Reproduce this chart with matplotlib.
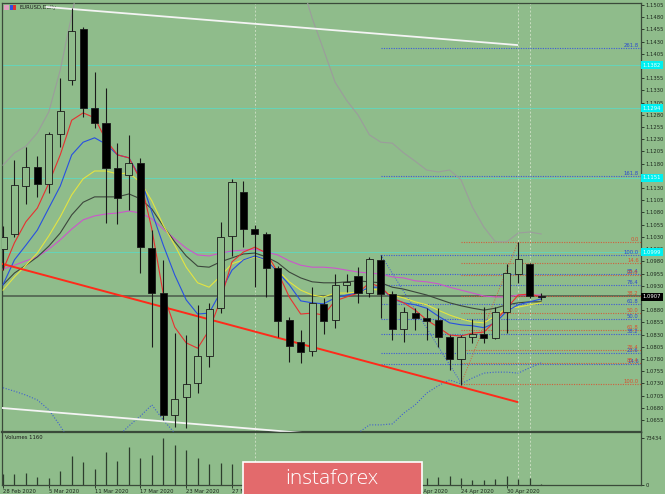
import numpy as np
import matplotlib
matplotlib.use("Agg")
import matplotlib.pyplot as plt
from matplotlib.patches import Rectangle
import matplotlib.transforms as mtransforms

# EURUSD daily bars, 28 Feb 2020 .. 5 May 2020
opens = [1.1005, 1.1036, 1.1134, 1.1173, 1.1138, 1.1241, 1.1351, 1.1456, 1.1294, 1.1263,
         1.1171, 1.1157, 1.1181, 1.1007, 1.0915, 1.0665, 1.0702, 1.0731, 1.0786, 1.0884,
         1.1032, 1.1122, 1.1046, 1.1036, 1.0966, 1.0860, 1.0815, 1.0796, 1.0893, 1.0860,
         1.0931, 1.0950, 1.0915, 1.0983, 1.0913, 1.0841, 1.0874, 1.0864, 1.0860, 1.0825,
         1.0780, 1.0825, 1.0831, 1.0823, 1.0876, 1.0954, 1.0975, 1.0909]
highs = [1.1053, 1.1188, 1.1214, 1.1195, 1.1245, 1.1355, 1.1499, 1.1460, 1.1368, 1.1335,
         1.1222, 1.1239, 1.1192, 1.1044, 1.0983, 1.0833, 1.0829, 1.0890, 1.0895, 1.1061,
         1.1148, 1.1145, 1.1054, 1.1040, 1.0970, 1.0866, 1.0839, 1.0927, 1.0905, 1.0954,
         1.0954, 1.0968, 1.0989, 1.0993, 1.0920, 1.0886, 1.0884, 1.0884, 1.0884, 1.0830,
         1.0829, 1.0862, 1.0886, 1.0886, 1.0975, 1.1020, 1.0977, 1.0915]
lows = [1.0962, 1.1030, 1.1097, 1.1112, 1.1120, 1.1214, 1.1341, 1.1276, 1.1253, 1.1058,
        1.1056, 1.1085, 1.0956, 1.0804, 1.0655, 1.0641, 1.0639, 1.0710, 1.0764, 1.0874,
        1.0990, 1.1009, 1.0927, 1.0907, 1.0825, 1.0774, 1.0772, 1.0786, 1.0831, 1.0843,
        1.0917, 1.0895, 1.0907, 1.0864, 1.0819, 1.0815, 1.0839, 1.0819, 1.0805, 1.0757,
        1.0727, 1.0813, 1.0813, 1.0821, 1.0833, 1.0936, 1.0905, 1.0900]
closes = [1.1030, 1.1136, 1.1173, 1.1138, 1.1241, 1.1288, 1.1452, 1.1294, 1.1263, 1.1171,
          1.1110, 1.1181, 1.1009, 1.0915, 1.0665, 1.0698, 1.0729, 1.0786, 1.0882, 1.1030,
          1.1142, 1.1046, 1.1036, 1.0966, 1.0858, 1.0807, 1.0794, 1.0895, 1.0858, 1.0931,
          1.0938, 1.0915, 1.0985, 1.0913, 1.0841, 1.0876, 1.0864, 1.0858, 1.0825, 1.0780,
          1.0825, 1.0831, 1.0823, 1.0876, 1.0956, 1.0985, 1.0909, 1.0907]
volumes = [17000, 17186, 18749, 12500, 10937, 21874, 45310, 35935, 24998, 51560,
           37498, 59372, 42186, 46873, 73434, 62497, 54685, 42186, 32811, 34373,
           32811, 23436, 26000, 28000, 22000, 24000, 20000, 18000, 21000, 17000,
           19000, 16000, 15000, 18000, 17000, 20000, 15000, 10937, 12500, 14062,
           10937, 7812, 7812, 9374, 14062, 9374, 10937, 1160]

date_bars = [0, 4, 8, 12, 16, 20, 24, 28, 32, 36, 40, 44]
date_labels = ["28 Feb 2020", "5 Mar 2020", "11 Mar 2020", "17 Mar 2020", "23 Mar 2020",
               "27 Mar 2020", "2 Apr 2020", "8 Apr 2020", "14 Apr 2020", "20 Apr 2020",
               "24 Apr 2020", "30 Apr 2020"]

nan = float("nan")
ma_red = [1.0962, 1.1018, 1.1061, 1.1089, 1.1140, 1.1198, 1.1269, 1.1284, 1.1274, 1.1228,
          1.1198, 1.1192, 1.1147, 1.1046, 1.0913, 1.0845, 1.0813, 1.0802, 1.0839, 1.0901,
          1.0979, 1.0999, 1.1009, 1.0997, 1.0958, 1.0907, 1.0872, 1.0874, 1.0870, 1.0899,
          1.0907, 1.0915, 1.0936, 1.0927, 1.0905, 1.0895, 1.0880, 1.0860, 1.0845, 1.0829,
          1.0827, 1.0833, 1.0835, 1.0858, 1.0884, 1.0911, 1.0913, 1.0907]
ma_blue = [1.0932, 1.0983, 1.1013, 1.1044, 1.1089, 1.1134, 1.1198, 1.1224, 1.1233, 1.1220,
           1.1198, 1.1192, 1.1151, 1.1081, 1.1013, 1.0952, 1.0901, 1.0872, 1.0874, 1.0917,
           1.0962, 1.0983, 1.0991, 1.0983, 1.0958, 1.0932, 1.0899, 1.0895, 1.0893, 1.0905,
           1.0911, 1.0915, 1.0927, 1.0927, 1.0903, 1.0895, 1.0891, 1.0884, 1.0868, 1.0854,
           1.0850, 1.0848, 1.0844, 1.0854, 1.0878, 1.0891, 1.0897, 1.0903]
ma_yellow = [1.0921, 1.0948, 1.0972, 1.0997, 1.1032, 1.1071, 1.1116, 1.1149, 1.1165, 1.1165,
             1.1159, 1.1161, 1.1142, 1.1104, 1.1054, 1.1013, 1.0968, 1.0936, 1.0927, 1.0950,
             1.0975, 1.0983, 1.0989, 1.0983, 1.0962, 1.0938, 1.0921, 1.0911, 1.0907, 1.0915,
             1.0915, 1.0917, 1.0923, 1.0921, 1.0911, 1.0905, 1.0897, 1.0891, 1.0880, 1.0870,
             1.0862, 1.0856, 1.0854, 1.0868, 1.0884, 1.0886, 1.0891, 1.0895]
ma_gray = [1.0932, 1.0956, 1.0972, 1.0989, 1.1011, 1.1038, 1.1075, 1.1101, 1.1112, 1.1112,
           1.1112, 1.1118, 1.1108, 1.1087, 1.1052, 1.1020, 1.0991, 1.0970, 1.0968, 1.0979,
           1.0987, 1.0995, 1.0997, 1.0989, 1.0977, 1.0958, 1.0946, 1.0938, 1.0936, 1.0936,
           1.0938, 1.0940, 1.0938, 1.0936, 1.0927, 1.0923, 1.0917, 1.0911, 1.0903, 1.0895,
           1.0889, 1.0884, 1.0880, 1.0884, 1.0891, 1.0895, 1.0897, 1.0897]
ma_magenta = [1.0964, 1.0972, 1.0981, 1.0989, 1.1005, 1.1024, 1.1046, 1.1065, 1.1073, 1.1077,
              1.1079, 1.1083, 1.1079, 1.1067, 1.1046, 1.1026, 1.1007, 1.0993, 1.0991, 1.0997,
              1.1001, 1.1003, 1.1005, 1.0999, 1.0993, 1.0981, 1.0972, 1.0968, 1.0968, 1.0966,
              1.0962, 1.0958, 1.0956, 1.0954, 1.0948, 1.0946, 1.0940, 1.0938, 1.0934, 1.0927,
              1.0921, 1.0915, 1.0909, 1.0907, 1.0907, 1.0911, 1.0911, 1.0911]
band_upper = [1.1177, 1.1202, 1.1216, 1.1243, 1.1286, 1.1372, 1.1484, 1.1597, nan, nan,
              nan, nan, nan, nan, nan, nan, nan, nan, nan, nan,
              nan, nan, nan, nan, nan, nan, 1.1556, 1.1478, 1.1413, 1.1347,
              1.1310, 1.1280, 1.1239, 1.1224, 1.1222, 1.1202, 1.1185, 1.1167, 1.1163, 1.1167,
              1.1147, 1.1091, 1.1050, 1.1020, 1.1020, 1.1038, 1.1040, 1.1036]
band_lower = [1.0721, 1.0714, 1.0706, 1.0696, 1.0676, 1.0643, 1.0604, nan, nan, nan,
              1.0620, 1.0643, 1.0663, 1.0686, 1.0655, 1.0628, 1.0594, nan, nan, nan,
              nan, nan, nan, nan, nan, nan, nan, nan, nan, nan,
              1.0604, 1.0628, 1.0645, 1.0645, 1.0647, 1.0669, 1.0686, 1.0710, 1.0725, 1.0737,
              1.0729, 1.0741, 1.0751, 1.0753, 1.0753, 1.0751, 1.0762, 1.0772]

# drawn objects (bar index, price)
trend_red = ([-0.26, 44.9], [1.0976, 1.0692])
channel_top = ([3.8, 44.9], [1.1501, 1.1423])
channel_bottom = ([-0.26, 30.0], [1.0680, 1.0621])
cyan_levels = [1.1382, 1.1294, 1.1151, 1.0999]
hline_level = 1.0909
vline_bars = [22, 45, 46]

fib_blue_bars = (33, 40)
fib_blue_hi, fib_blue_lo = 1.0993, 1.0731
fib_blue_levels = [14.6, 23.6, 38.2, 50.0, 61.8, 76.4, 85.4, 100.0, 161.8, 261.8]
fib_red_bars = (40, 45)
fib_red_lo, fib_red_hi = 1.0729, 1.1020
fib_red_levels = [0.0, 14.6, 23.6, 38.2, 50.0, 61.8, 76.4, 85.4, 100.0]

price_ticks = [1.1505, 1.1480, 1.1455, 1.1430, 1.1405, 1.1380, 1.1355, 1.1330, 1.1305,
               1.1280, 1.1255, 1.1230, 1.1205, 1.1180, 1.1155, 1.1130, 1.1105, 1.1080,
               1.1055, 1.1030, 1.1005, 1.0980, 1.0955, 1.0930, 1.0905, 1.0880, 1.0855,
               1.0830, 1.0805, 1.0780, 1.0755, 1.0730, 1.0705, 1.0680, 1.0655]

BG = "#8fbc8b"
FS = 3.8
W, H = 665, 494
fig = plt.figure(figsize=(W / 100, H / 100), dpi=100, facecolor=BG)
ax = fig.add_axes([2 / W, 1 - 432 / H, 639 / W, 429 / H], facecolor=BG)
axv = fig.add_axes([2 / W, 1 - 485 / H, 639 / W, 53 / H], facecolor=BG, sharex=ax)

x = np.arange(len(closes))
xmax = 55.72
ax.set_xlim(-0.087, xmax)
ax.set_ylim(1.06304, 1.15091)

# vertical separators
for vb in vline_bars:
    for a in (ax, axv):
        a.axvline(vb, color="#c8dcc0", lw=0.7, ls=(0, (2, 2)), zorder=1)

# cyan levels and horizontal line
for lv in cyan_levels:
    ax.axhline(lv, color="#5fd8c0", lw=0.6, zorder=1)
ax.axhline(hline_level, color="#4a5a4a", lw=1.1, zorder=2)

# fibonacci blue
for lv in fib_blue_levels:
    p = fib_blue_lo + (fib_blue_hi - fib_blue_lo) * lv / 100
    ax.hlines(p, fib_blue_bars[0], xmax, color="#3d5ad8", lw=0.8, ls=(0, (1, 1.2)), zorder=2)
    ax.text(xmax - 0.2, p, f"{lv:.1f}", color="#2a48d0", fontsize=FS,
            ha="right", va="bottom", zorder=6)
ax.plot(fib_blue_bars, [fib_blue_hi, fib_blue_lo], color="#3d5ad8", lw=0.7,
        ls=(0, (1, 1.5)), zorder=2)

# fibonacci red
for lv in fib_red_levels:
    p = fib_red_hi - (fib_red_hi - fib_red_lo) * lv / 100
    ax.hlines(p, fib_red_bars[0], xmax, color="#d0603c", lw=0.8, ls=(0, (1, 1.2)), zorder=2)
    ax.text(xmax - 0.2, p, f"{lv:.1f}", color="#d85030", fontsize=FS,
            ha="right", va="bottom", zorder=6)
ax.plot(fib_red_bars, [fib_red_lo, fib_red_hi], color="#d0603c", lw=0.7,
        ls=(0, (1, 1.5)), zorder=2)

# bands and moving averages
ax.plot(x, band_upper, color="#9c9c9c", lw=0.8, zorder=3)
ax.plot(x, band_lower, color="#4060d0", lw=0.8, ls=(0, (1, 1.5)), zorder=3)
ax.plot(x, ma_magenta, color="#cc55cc", lw=0.8, zorder=3)
ax.plot(x, ma_gray, color="#3c463c", lw=0.8, zorder=3)
ax.plot(x, ma_yellow, color="#e4e440", lw=0.8, zorder=3)
ax.plot(x, ma_blue, color="#2850e0", lw=0.8, zorder=3)
ax.plot(x, ma_red, color="#e83030", lw=0.8, zorder=3)

# trend & channel
ax.plot(*trend_red, color="#ff2a1a", lw=1.4, zorder=4)
ax.plot(*channel_top, color="#f4f4f4", lw=1.3, zorder=4)
ax.plot(*channel_bottom, color="#f4f4f4", lw=1.3, zorder=4)

# candles
bw = 0.62
for i in range(len(closes)):
    o, h, l, c = opens[i], highs[i], lows[i], closes[i]
    ax.vlines(i, l, h, color="#1a1a1a", lw=0.8, zorder=5)
    bottom = min(o, c)
    height = max(abs(c - o), 0.00005)
    fc = "#000000" if c < o else BG
    ax.add_patch(Rectangle((i - bw / 2, bottom), bw, height, facecolor=fc,
                           edgecolor="#1a1a1a", lw=0.6, zorder=5))

# price axis
ax.yaxis.tick_right()
ax.set_yticks(price_ticks)
ax.set_yticklabels([f"{t:.4f}" for t in price_ticks])
ax.tick_params(axis="y", labelsize=FS, length=2, width=0.6, pad=1,
               colors="#1e2a1e")
ax.tick_params(axis="x", bottom=False, labelbottom=False)

trans = mtransforms.blended_transform_factory(ax.transAxes, ax.transData)
for lv in cyan_levels:
    ax.text(1.003, lv, f"{lv:.4f}", transform=trans, fontsize=FS, color="#e8ffff",
            ha="left", va="center", clip_on=False, zorder=10,
            bbox=dict(boxstyle="square,pad=0.3", fc="#00f0f0", ec="none"))
ax.text(1.003, closes[-1], f"{closes[-1]:.4f}", transform=trans, fontsize=FS,
        color="white", ha="left", va="center", clip_on=False, zorder=10,
        bbox=dict(boxstyle="square,pad=0.3", fc="black", ec="none"))

ax.text(0.028, 0.99, "EURUSD,Daily", transform=ax.transAxes, fontsize=FS,
        color="#1a1a1a", ha="left", va="center")
fig.patches.append(Rectangle((4 / W, 1 - 10 / H), 5 / W, 5 / H, transform=fig.transFigure,
                             fc="#e0a0c0", ec="none"))
fig.patches.append(Rectangle((10 / W, 1 - 10 / H), 3 / W, 5 / H, transform=fig.transFigure,
                             fc="#3050e0", ec="none"))
fig.patches.append(Rectangle((13 / W, 1 - 10 / H), 3 / W, 5 / H, transform=fig.transFigure,
                             fc="#e03030", ec="none"))

# volumes
axv.vlines(x, 0, volumes, color="#2d3d2d", lw=0.9)
axv.set_ylim(0, max(volumes) * 53 / 47)
axv.yaxis.tick_right()
axv.set_yticks([0, max(volumes)])
axv.set_yticklabels(["0", str(max(volumes))])
axv.tick_params(axis="y", labelsize=FS, length=2, width=0.6, pad=1, colors="#1e2a1e")
axv.text(0.005, 0.9, f"Volumes {volumes[-1]}", transform=axv.transAxes, fontsize=FS,
         color="#1a1a1a", ha="left", va="center")
axv.set_xticks(date_bars)
axv.set_xticklabels(date_labels, ha="left")
axv.tick_params(axis="x", labelsize=FS, length=2, width=0.6, pad=1,
                colors="#1e2a1e")

for a in (ax, axv):
    for s in a.spines.values():
        s.set_color("#3a4a3a")
        s.set_linewidth(0.9)
ax.spines["bottom"].set_linewidth(1.6)

# logo
fig.patches.append(Rectangle((243 / W, -0.01), 179 / W, 32 / H + 0.01,
                             transform=fig.transFigure, fc="#e36a6c", ec="white", lw=1.2))
fig.text(332 / W, 1 - 479 / H, "instaforex", color="white", fontsize=15,
         family="Open Sans", weight="light", ha="center", va="center")

fig.savefig("out.png", dpi=100, facecolor=BG)
